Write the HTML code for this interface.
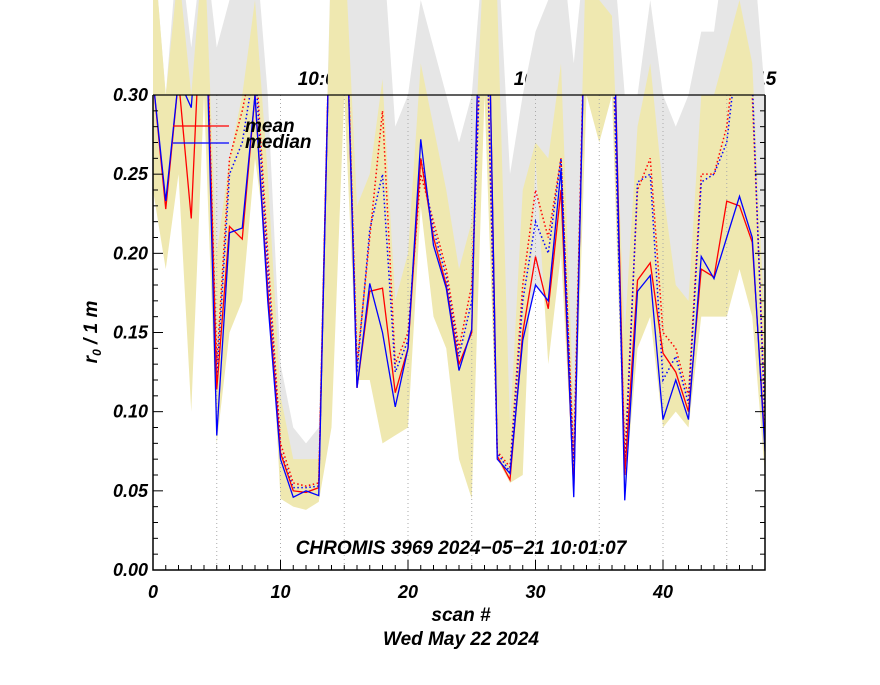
<!DOCTYPE html>
<html><head><meta charset="utf-8"><style>
body{margin:0;background:#fff;}
svg text{font-family:"Liberation Sans",sans-serif;font-weight:bold;font-style:italic;}
</style></head><body>
<svg id="chart" width="880" height="680" viewBox="0 0 880 680"></svg>
<script>
const scanIdx = Array.from({length:49},(_,i)=>i);
const meanVals = [0.31,0.228,0.31,0.222,0.40,0.114,0.217,0.209,0.30,0.177,0.074,0.050,0.049,0.052,0.40,0.40,0.115,0.176,0.178,0.112,0.140,0.260,0.210,0.180,0.130,0.150,0.50,0.072,0.057,0.150,0.198,0.165,0.240,0.050,0.40,0.40,0.40,0.060,0.183,0.194,0.137,0.125,0.100,0.190,0.185,0.233,0.230,0.207,0.080];
const medianVals = [0.31,0.233,0.31,0.292,0.40,0.085,0.213,0.216,0.30,0.170,0.070,0.046,0.050,0.047,0.40,0.40,0.115,0.181,0.150,0.103,0.140,0.272,0.205,0.178,0.126,0.152,0.50,0.070,0.061,0.145,0.180,0.170,0.253,0.046,0.40,0.40,0.40,0.044,0.176,0.186,0.095,0.120,0.095,0.198,0.184,0.210,0.236,0.210,0.075];
const meanDotVals = [0.35,0.33,0.35,0.33,0.40,0.13,0.26,0.29,0.33,0.20,0.08,0.055,0.053,0.055,0.40,0.40,0.13,0.21,0.29,0.13,0.15,0.25,0.22,0.19,0.14,0.18,0.40,0.075,0.065,0.18,0.24,0.21,0.26,0.07,0.40,0.40,0.36,0.07,0.24,0.26,0.15,0.14,0.11,0.25,0.25,0.28,0.35,0.30,0.10];
const medianDotVals = [0.34,0.32,0.34,0.31,0.40,0.12,0.25,0.27,0.32,0.19,0.075,0.052,0.052,0.053,0.40,0.40,0.125,0.215,0.25,0.125,0.145,0.26,0.215,0.185,0.135,0.17,0.40,0.074,0.062,0.17,0.22,0.20,0.26,0.06,0.40,0.40,0.35,0.06,0.245,0.25,0.12,0.135,0.105,0.245,0.25,0.27,0.34,0.31,0.09];
const yelLow = [0.24,0.19,0.25,0.10,0.30,0.08,0.15,0.17,0.26,0.20,0.045,0.040,0.038,0.043,0.09,0.30,0.12,0.12,0.08,0.085,0.09,0.23,0.16,0.14,0.07,0.045,0.30,0.07,0.055,0.06,0.26,0.13,0.20,0.05,0.30,0.27,0.30,0.05,0.14,0.16,0.09,0.10,0.09,0.16,0.16,0.16,0.19,0.16,0.06];
const yelHigh = [0.40,0.30,0.38,0.30,0.40,0.20,0.26,0.30,0.36,0.25,0.11,0.07,0.07,0.07,0.40,0.40,0.23,0.25,0.31,0.17,0.20,0.32,0.28,0.24,0.19,0.22,0.40,0.36,0.09,0.24,0.27,0.26,0.32,0.10,0.40,0.36,0.35,0.15,0.28,0.32,0.24,0.18,0.17,0.30,0.30,0.33,0.36,0.32,0.15];
const greyLow = [0.28,0.22,0.30,0.22,0.35,0.09,0.21,0.21,0.30,0.18,0.07,0.05,0.05,0.05,0.35,0.35,0.12,0.17,0.16,0.11,0.14,0.26,0.21,0.18,0.13,0.15,0.40,0.07,0.06,0.15,0.18,0.17,0.24,0.05,0.35,0.35,0.35,0.05,0.18,0.19,0.10,0.12,0.10,0.19,0.18,0.21,0.23,0.21,0.08];
const greyHigh = [0.40,0.30,0.40,0.33,0.40,0.33,0.36,0.40,0.40,0.30,0.13,0.09,0.08,0.09,0.40,0.40,0.40,0.40,0.40,0.28,0.30,0.36,0.33,0.30,0.27,0.30,0.40,0.40,0.25,0.30,0.34,0.36,0.40,0.32,0.40,0.36,0.40,0.30,0.30,0.36,0.30,0.28,0.30,0.34,0.34,0.40,0.40,0.40,0.30];
const yTicks = ["0.00","0.05","0.10","0.15","0.20","0.25","0.30"];
const xTicks = ["0","10","20","30","40"];
const topLabels = ["10:05","10:10","10:15"];

const NS="http://www.w3.org/2000/svg";
const svg=document.getElementById('chart');
const X0=153,X1=765,Y0=570,Y1=95;
const xs=v=>X0+(v/48)*(X1-X0);
const ys=v=>Y0-(v/0.30)*(Y0-Y1);
function mk(tag,attrs,parent){const e=document.createElementNS(NS,tag);for(const k in attrs)e.setAttribute(k,attrs[k]);(parent||svg).appendChild(e);return e;}

const defs=mk('defs',{});
const cp=mk('clipPath',{id:'plotclip'},defs);
mk('rect',{x:X0,y:Y1,width:X1-X0,height:Y0-Y1},cp);

topLabels.forEach((t,i)=>{
  const e=mk('text',{x:[322,538,752][i],y:85,'font-size':19,'text-anchor':'middle'});
  e.textContent=t;
  
  
});

function band(lo,hi,fill,name){
  let d='M'+scanIdx.map(i=>xs(i)+','+ys(hi[i])).join('L');
  d+='L'+scanIdx.slice().reverse().map(i=>xs(i)+','+ys(lo[i])).join('L')+'Z';
  const p=mk('path',{d:d,fill:fill});
  
  
}
band(greyLow,greyHigh,'#e6e6e6','grey-range-band');
band(yelLow,yelHigh,'#efe8b0','yellow-range-band');

for(let i=5;i<48;i+=5){
  const l=mk('line',{x1:xs(i),x2:xs(i),y1:Y1,y2:Y0,stroke:'#aaa','stroke-width':1,'stroke-dasharray':'1,3'});
  
  
}

const g=mk('g',{'clip-path':'url(#plotclip)'});
function line(vals,color,dash,name){
  const p=mk('polyline',{points:scanIdx.map(i=>xs(i)+','+ys(vals[i])).join(' '),fill:'none',stroke:color,'stroke-width':dash?1.5:1.3},g);
  if(dash)p.setAttribute('stroke-dasharray','1.5,2.5');
  
  
}
line(meanDotVals,'#f00',true,'mean-dotted-line');
line(medianDotVals,'#00f',true,'median-dotted-line');
line(meanVals,'#f00',false,'mean-line');
line(medianVals,'#00f',false,'median-line');

const ax=mk('path',{d:`M${X0},${Y1}V${Y0}H${X1}V${Y1}`,fill:'none',stroke:'#000','stroke-width':1.5});


const tl=mk('line',{x1:X0,x2:X1,y1:Y1,y2:Y1,stroke:'#000','stroke-width':1.2});


for(let k=0;k<=30;k++){
  const y=ys(k/100),len=k%5==0?10:5;
  mk('line',{x1:X0,x2:X0+len,y1:y,y2:y,stroke:'#000'});
  mk('line',{x1:X1,x2:X1-len,y1:y,y2:y,stroke:'#000'});
}
yTicks.forEach(t=>{
  const e=mk('text',{x:X0-5,y:ys(+t)+6,'font-size':18,'text-anchor':'end'});
  e.textContent=t;
  
  
});
for(let i=0;i<=48;i++){
  const x=xs(i),len=i%10==0?10:5;
  mk('line',{x1:x,x2:x,y1:Y0,y2:Y0-len,stroke:'#000'});
}
xTicks.forEach(t=>{
  const e=mk('text',{x:xs(+t),y:598,'font-size':18,'text-anchor':'middle'});
  e.textContent=t;
  
  
});
</script>
<svg width="880" height="680" style="position:absolute;left:0;top:0">
<g>
<line x1="173" x2="229" y1="126" y2="126" stroke="#f00" stroke-width="1.3"/>
<line x1="173" x2="229" y1="143" y2="143" stroke="#00f" stroke-width="1.3"/>
<text x="245" y="132" font-size="19">mean</text>
<text x="245" y="148" font-size="19">median</text>
</g>
<text x="461" y="554" font-size="19" text-anchor="middle">CHROMIS 3969 2024−05−21 10:01:07</text>
<text x="461" y="621" font-size="19" text-anchor="middle">scan #</text>
<text x="461" y="645" font-size="19" text-anchor="middle">Wed May 22 2024</text>
<text transform="translate(97,332) rotate(-90)" font-size="19" text-anchor="middle">r<tspan font-size="12" dy="4">0</tspan><tspan dy="-4"> / 1 m</tspan></text>
</svg>
</body></html>
